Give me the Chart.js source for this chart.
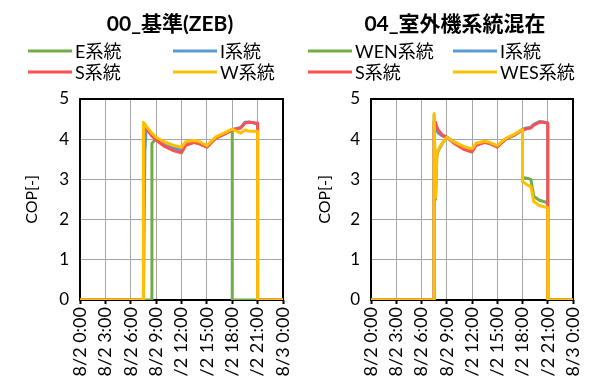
<!DOCTYPE html>
<html>
<head>
<meta charset="utf-8">
<script src="https://cdn.jsdelivr.net/npm/chart.js@4/dist/chart.umd.min.js"></script>
<style>
  body { margin: 0; background: #fff; }
  #wrap { position: relative; width: 591px; height: 376px; }
  canvas { position: absolute; top: 0; }
</style>
</head>
<body>
<div id="wrap">
  <canvas id="chartZeb" width="295" height="376" style="left:0"></canvas>
  <canvas id="chartMix" width="296" height="376" style="left:295px"></canvas>
</div>
<script>
const FONT = "Lato, 'Noto Sans CJK JP', sans-serif";

const tickLabels = ['8/2 0:00', '8/2 3:00', '8/2 6:00', '8/2 9:00', '8/2 12:00',
                    '8/2 15:00', '8/2 18:00', '8/2 21:00', '8/3 0:00'];

// 00_基準(ZEB) : hours of day and COP per system
const zebHours = [0, 7.5, 7.5, 7.67, 7.83, 8, 8.5, 8.5, 9, 10, 11, 12, 12.5, 13.5, 14, 15, 16, 17, 18, 18, 19, 19.5, 20, 21, 21, 24];
const zebE = [0, 0, 0, 0, 0, 0, 0, 3.9, 4.0, 3.87, 3.78, 3.73, 3.88, 3.92, 3.9, 3.81, 4.02, 4.12, 4.22, 0, 0, 0, 0, 0, 0, 0];
const zebI = [0, 0, 0, 3.7, 4.28, 4.25, 4.1, 4.1, 4.0, 3.87, 3.78, 3.72, 3.88, 3.93, 3.91, 3.81, 4.03, 4.13, 4.24, 4.24, 4.29, 4.42, 4.43, 4.38, 0, 0];
const zebS = [0, 0, 4.2, 4.3, 4.28, 4.22, 4.08, 4.08, 3.98, 3.82, 3.72, 3.66, 3.85, 3.92, 3.89, 3.8, 4.02, 4.12, 4.23, 4.23, 4.28, 4.4, 4.42, 4.4, 0, 0];
const zebW = [0, 0, 4.42, 4.38, 4.32, 4.28, 4.15, 4.15, 4.05, 3.93, 3.85, 3.8, 3.94, 3.97, 3.95, 3.84, 4.05, 4.15, 4.25, 4.25, 4.15, 4.23, 4.2, 4.2, 0, 0];

// 04_室外機系統混在
const mixHours = [0, 7.5, 7.5, 7.67, 7.83, 8, 8.5, 9, 10, 11, 12, 12.5, 13.5, 14, 15, 16, 17, 18, 18, 18.5, 19, 19.33, 20, 20.5, 21, 21, 24];
const mixWEN = [0, 0, 4.6, 2.5, 3.6, 3.72, 3.9, 4.05, 3.9, 3.8, 3.74, 3.88, 3.93, 3.91, 3.82, 4.0, 4.1, 4.24, 3.05, 3.03, 3.0, 2.58, 2.48, 2.45, 2.42, 0, 0];
const mixI = [0, 0, 4.3, 4.32, 4.2, 4.15, 4.08, 4.05, 3.92, 3.8, 3.74, 3.86, 3.93, 3.9, 3.82, 4.0, 4.1, 4.25, 4.25, 4.28, 4.3, 4.37, 4.44, 4.43, 4.4, 0, 0];
const mixS = [0, 0, 4.42, 4.42, 4.3, 4.22, 4.1, 4.05, 3.88, 3.75, 3.68, 3.85, 3.92, 3.9, 3.8, 4.0, 4.1, 4.23, 4.23, 4.26, 4.28, 4.35, 4.42, 4.42, 4.4, 0, 0];
const mixWES = [0, 0, 4.64, 2.55, 3.65, 3.75, 3.92, 4.05, 3.92, 3.82, 3.76, 3.9, 3.95, 3.93, 3.84, 4.02, 4.12, 4.24, 2.95, 2.87, 2.82, 2.45, 2.35, 2.32, 2.3, 0, 0];

const GREEN = '#70AD47', BLUE = '#5B9BD5', RED = '#FF5050', YELLOW = '#FFC000';

Chart.defaults.font.family = FONT;
Chart.defaults.color = '#000';

// black frame around the plot area, under the lines
const framePlugin = {
    id: 'frame',
    beforeDatasetsDraw(chart) {
        const { ctx, chartArea: a } = chart;
        ctx.save();
        ctx.strokeStyle = '#000';
        ctx.lineWidth = 2;
        ctx.strokeRect(a.left, a.top, a.right - a.left, a.bottom - a.top);
        ctx.restore();
    }
};

// title and a two-column legend
function headerPlugin(title, titleX, columns) {
    return {
        id: 'header',
        afterDraw(chart) {
            const ctx = chart.ctx;
            const rows = [51, 72];
            ctx.save();
            ctx.fillStyle = '#000';
            ctx.font = 'bold 21px ' + FONT;
            ctx.textAlign = 'center';
            ctx.textBaseline = 'middle';
            ctx.fillText(title, titleX, 24);
            ctx.font = '18px ' + FONT;
            ctx.textAlign = 'left';
            chart.data.datasets.forEach((ds, i) => {
                const x = columns[i % 2];
                const y = rows[Math.floor(i / 2)];
                ctx.strokeStyle = ds.borderColor;
                ctx.lineWidth = 3;
                ctx.beginPath();
                ctx.moveTo(x, y);
                ctx.lineTo(x + 44, y);
                ctx.stroke();
                ctx.fillText(ds.label, x + 47, y + 1);
            });
            ctx.restore();
        }
    };
}

function series(label, color, hours, values, order) {
    return {
        label: label,
        data: hours.map((h, i) => ({ x: h, y: values[i] })),
        borderColor: color,
        backgroundColor: color,
        borderWidth: 3,
        pointRadius: 0,
        tension: 0,
        borderJoinStyle: 'round',
        order: order
    };
}

function makeChart(id, datasets, yWidth, padRight, titlePad, header) {
    return new Chart(document.getElementById(id), {
        type: 'line',
        data: { datasets: datasets },
        plugins: [framePlugin, header],
        options: {
            responsive: false,
            animation: false,
            layout: { padding: { top: 99, right: padRight, left: 0, bottom: 0 } },
            plugins: { legend: { display: false }, tooltip: { enabled: false } },
            scales: {
                x: {
                    type: 'linear',
                    min: 0,
                    max: 24,
                    border: { display: false },
                    grid: { color: '#a6a6a6', lineWidth: 1, tickColor: '#000', tickLength: 4, tickWidth: 2 },
                    ticks: {
                        stepSize: 3,
                        autoSkip: false,
                        minRotation: 90,
                        maxRotation: 90,
                        padding: 3,
                        font: { size: 18 },
                        callback: (v) => tickLabels[v / 3]
                    },
                    afterFit: (scale) => {
                        scale.height = 76;
                        scale.paddingLeft = 0;
                        scale.paddingRight = 0;
                    }
                },
                y: {
                    min: 0,
                    max: 5,
                    border: { display: false },
                    grid: { color: '#a6a6a6', lineWidth: 1, drawTicks: false },
                    ticks: { stepSize: 1, padding: 11, font: { size: 17 } },
                    title: { display: true, text: 'COP[-]', font: { size: 16 }, padding: { top: titlePad, bottom: 0 } },
                    afterFit: (scale) => {
                        scale.width = yWidth;
                        scale.paddingTop = 0;
                        scale.paddingBottom = 0;
                    }
                }
            }
        }
    });
}

makeChart('chartZeb', [
    series('E系統', GREEN, zebHours, zebE, 4),
    series('I系統', BLUE, zebHours, zebI, 3),
    series('S系統', RED, zebHours, zebS, 2),
    series('W系統', YELLOW, zebHours, zebW, 1)
], 80, 12, 22, headerPlugin('00_基準(ZEB)', 170, [28, 173]));

makeChart('chartMix', [
    series('WEN系統', GREEN, mixHours, mixWEN, 4),
    series('I系統', BLUE, mixHours, mixI, 3),
    series('S系統', RED, mixHours, mixS, 2),
    series('WES系統', YELLOW, mixHours, mixWES, 1)
], 76, 18, 20, headerPlugin('04_室外機系統混在', 160, [13, 158]));
</script>
</body>
</html>
